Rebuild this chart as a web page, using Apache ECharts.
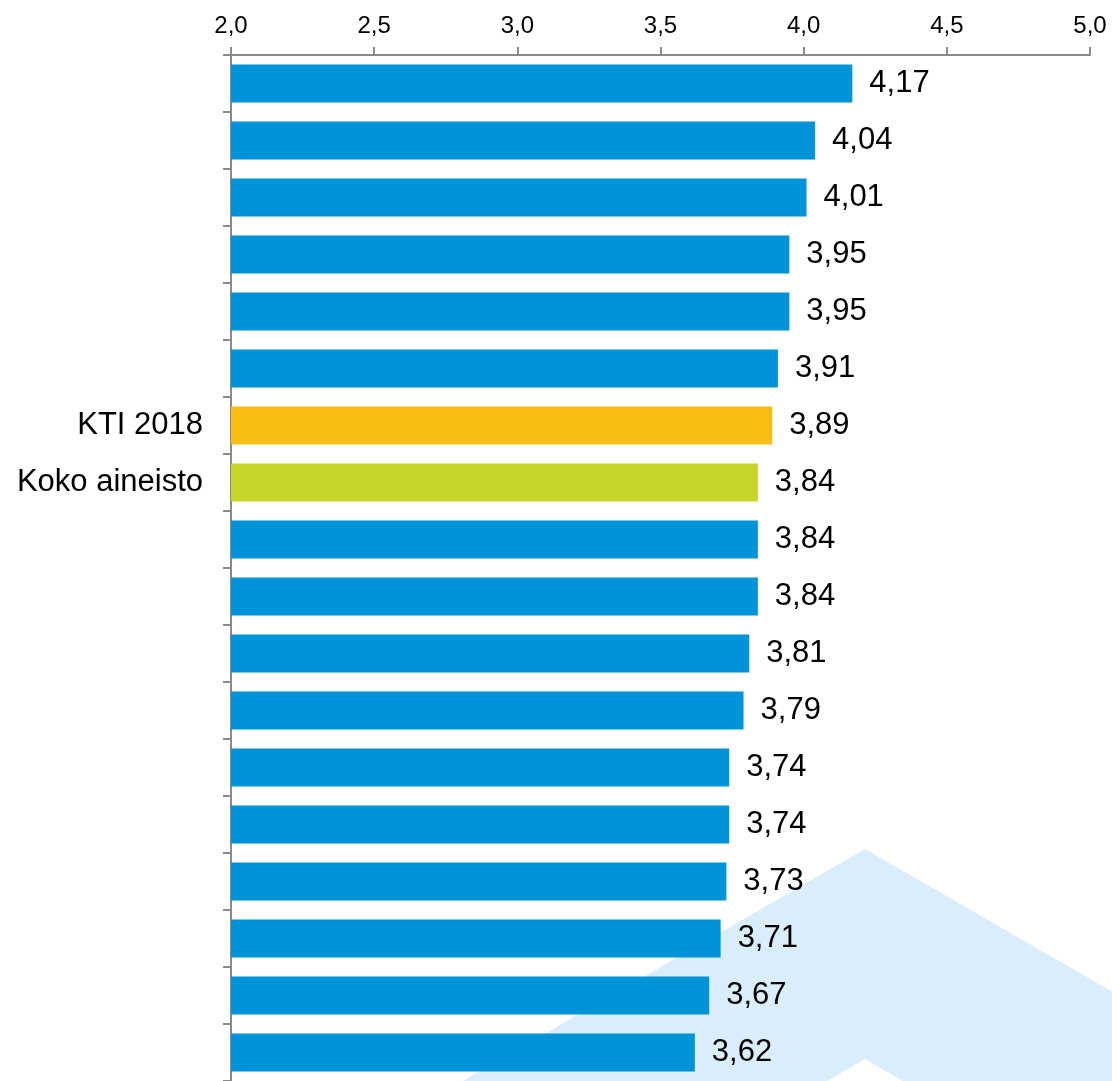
<!DOCTYPE html>
<html>
<head>
<meta charset="utf-8">
<script src="https://cdn.jsdelivr.net/npm/echarts@6/dist/echarts.min.js"></script>
<style>
html,body{margin:0;padding:0;background:#fff;}
#c{width:1112px;height:1081px;}
</style>
</head>
<body>
<div id="c"></div>
<script>
const categories = ['', '', '', '', '', '', 'KTI 2018', 'Koko aineisto', '', '', '', '', '', '', '', '', '', ''];
const values = [4.17, 4.04, 4.01, 3.95, 3.95, 3.91, 3.89, 3.84, 3.84, 3.84, 3.81, 3.79, 3.74, 3.74, 3.73, 3.71, 3.67, 3.62];
const barColors = ['#0093D7','#0093D7','#0093D7','#0093D7','#0093D7','#0093D7','#F9BE14','#C6D52A','#0093D7','#0093D7','#0093D7','#0093D7','#0093D7','#0093D7','#0093D7','#0093D7','#0093D7','#0093D7'];
const xTicks = { min: 2, max: 5, interval: 0.5 };

const fmt = v => Number(v).toFixed(1).replace('.', ',');
const fmt2 = v => Number(v).toFixed(2).replace('.', ',');

const chart = echarts.init(document.getElementById('c'), null, { renderer: 'canvas' });
chart.setOption({
  animation: false,
  backgroundColor: '#ffffff',
  textStyle: { fontFamily: 'Liberation Sans, Arial, sans-serif' },
  graphic: [{
    type: 'polygon',
    z: -10,
    silent: true,
    shape: { points: [[463,1081],[865,849],[1112,991.5],[1112,1081],[903,1081],[865,1059],[827,1081]] },
    style: { fill: '#d9eefa' }
  }],
  grid: { left: 231, right: 22, top: 55, height: 1029, containLabel: false },
  xAxis: {
    type: 'value',
    position: 'top',
    min: xTicks.min, max: xTicks.max, interval: xTicks.interval,
    axisLine: { show: true, lineStyle: { color: '#8a8a8a', width: 2 } },
    axisTick: { show: true, inside: false, length: 8, lineStyle: { color: '#8a8a8a', width: 2 } },
    axisLabel: { formatter: fmt, color: '#000', fontSize: 24, margin: 17, fontFamily: 'Liberation Sans, Arial, sans-serif' },
    splitLine: { show: false }
  },
  yAxis: {
    type: 'category',
    inverse: true,
    data: categories,
    axisLine: { show: true, lineStyle: { color: '#8a8a8a', width: 2 } },
    axisTick: { show: true, length: 8, alignWithLabel: false, interval: 0, lineStyle: { color: '#8a8a8a', width: 2 } },
    axisLabel: { color: '#000', fontSize: 31, margin: 28, interval: 0, fontFamily: 'Liberation Sans, Arial, sans-serif' }
  },
  series: [{
    type: 'bar',
    data: values.map((v, i) => ({ value: v, itemStyle: { color: barColors[i] } })),
    barWidth: 38,
    label: {
      show: true,
      position: 'right',
      distance: 17,
      color: '#000',
      fontSize: 31,
      fontFamily: 'Liberation Sans, Arial, sans-serif',
      formatter: p => fmt2(p.value)
    }
  }]
});
</script>
</body>
</html>
